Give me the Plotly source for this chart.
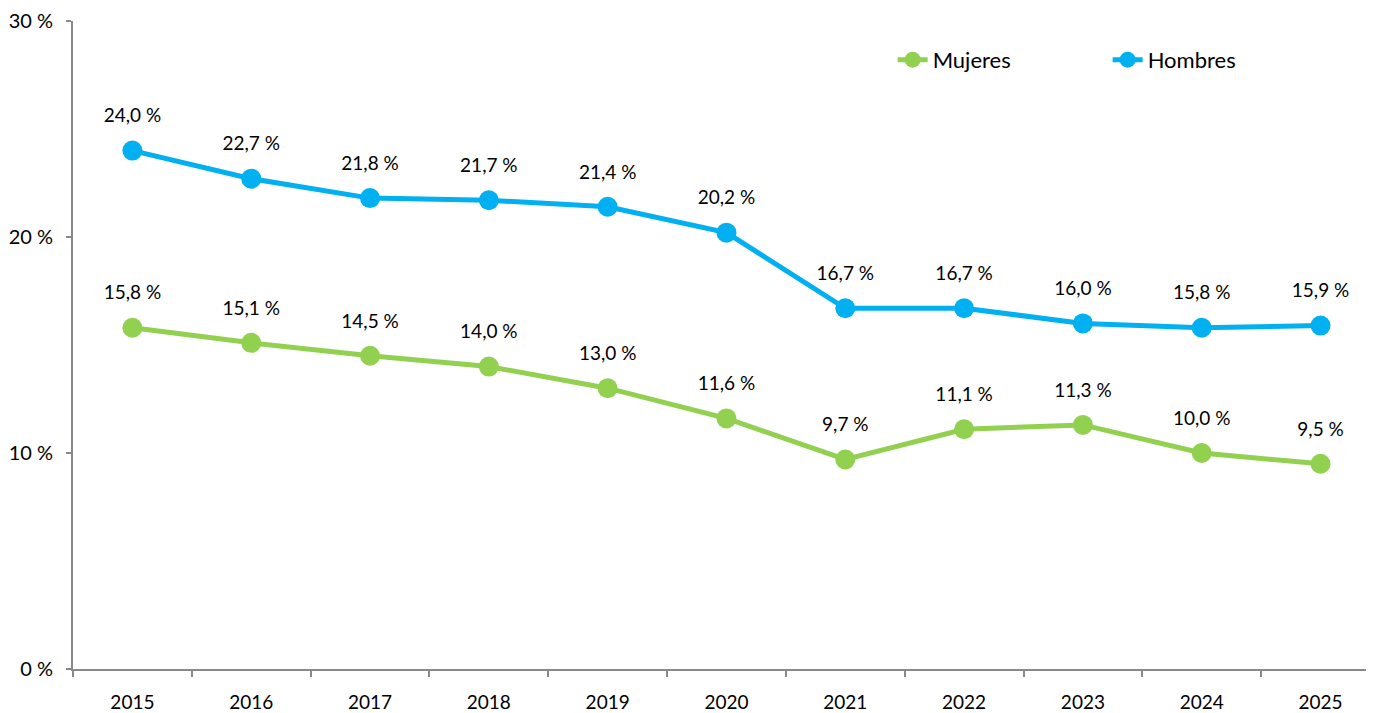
import plotly.graph_objects as go

years = ["2015", "2016", "2017", "2018", "2019", "2020", "2021", "2022", "2023", "2024", "2025"]
mujeres = [15.8, 15.1, 14.5, 14.0, 13.0, 11.6, 9.7, 11.1, 11.3, 10.0, 9.5]
hombres = [24.0, 22.7, 21.8, 21.7, 21.4, 20.2, 16.7, 16.7, 16.0, 15.8, 15.9]
y_ticks = [0, 10, 20, 30]
y_ticktext = ["0 %", "10 %", "20 %", "30 %"]

GREEN = "#92D050"
BLUE = "#00B0F0"
AXIS = "#898989"
FONT = "Lato"

fig = go.Figure()
for name, vals, col in [("Mujeres", mujeres, GREEN), ("Hombres", hombres, BLUE)]:
    fig.add_trace(go.Scatter(
        x=years, y=vals, name=name, mode="lines+markers",
        line=dict(color=col, width=5),
        marker=dict(color=col, size=20),
        hoverinfo="skip",
    ))
for vals in (mujeres, hombres):
    fig.add_trace(go.Scatter(
        x=years, y=vals, mode="markers+text", showlegend=False,
        text=[f"{v:.1f}".replace(".", ",") + "\u00a0%" for v in vals],
        textposition="top center",
        textfont=dict(family=FONT, size=19, color="#000000"),
        marker=dict(size=36, opacity=0),
        hoverinfo="skip",
    ))

fig.update_layout(
    width=1366, height=705,
    margin=dict(l=65, r=0, t=13, b=44),
    paper_bgcolor="white", plot_bgcolor="white",
    font=dict(family=FONT, color="#000000"),
    showlegend=True,
    legend=dict(
        orientation="h", x=0.63, y=0.94, xanchor="left", yanchor="middle",
        font=dict(family=FONT, size=22, color="#000000"),
        entrywidth=170, bgcolor="rgba(0,0,0,0)",
    ),
    xaxis=dict(
        type="category", range=[-0.5, 10.45],
        showline=True, linecolor=AXIS, linewidth=2,
        ticks="outside", tickson="boundaries", ticklen=6, tickcolor=AXIS, tickwidth=2,
        showgrid=False, zeroline=False, ticklabelstandoff=15,
        tickfont=dict(family=FONT, size=19, color="#000000"),
    ),
    yaxis=dict(
        range=[0, 30], tickmode="array", tickvals=y_ticks, ticktext=y_ticktext,
        showline=True, linecolor=AXIS, linewidth=2,
        ticks="outside", ticklen=5, tickcolor=AXIS, tickwidth=2,
        showgrid=False, zeroline=False, ticklabelstandoff=9,
        tickfont=dict(family=FONT, size=20, color="#000000"),
    ),
)

fig.write_html("out.html")
